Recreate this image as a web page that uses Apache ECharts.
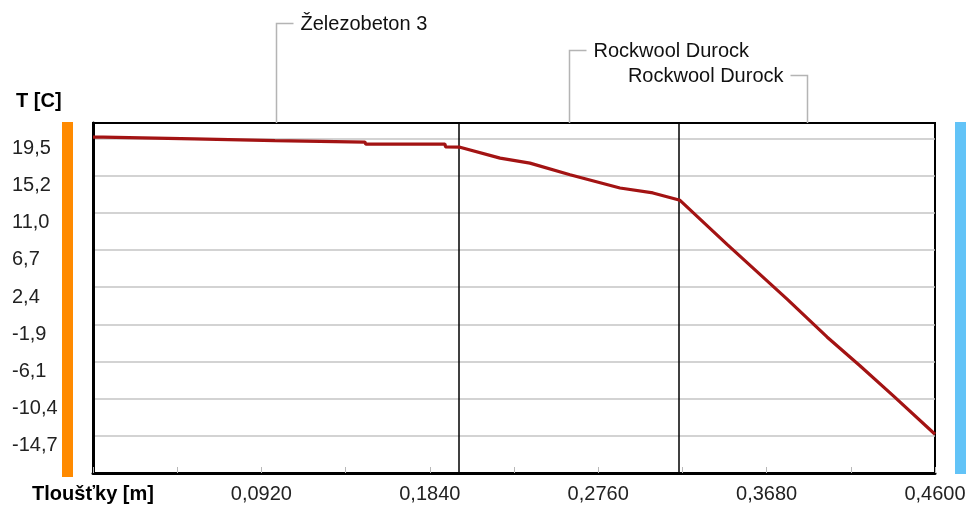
<!DOCTYPE html>
<html>
<head>
<meta charset="utf-8">
<script src="https://cdn.jsdelivr.net/npm/echarts@6/dist/echarts.min.js"></script>
<style>
html,body{margin:0;padding:0;background:#fff;}
#chart{width:972px;height:508px;}
</style>
</head>
<body>
<div id="chart"></div>
<script>
// ---- data ----
var thickness = [0, 0.0055, 0.006, 0.0552, 0.0555, 0.0994, 0.0997, 0.1486, 0.149, 0.1923, 0.1926, 0.2005,
  0.2224, 0.2387, 0.2606, 0.2879, 0.3059, 0.3207,
  0.3464, 0.3792, 0.401, 0.419, 0.4371, 0.46];
var temperature = [19.64, 19.64, 19.44, 19.44, 19.25, 19.25, 19.07, 19.07, 18.84, 18.84, 18.53, 18.49,
  17.23, 16.66, 15.32, 13.80, 13.23, 12.38,
  7.31, 1.02, -3.33, -6.65, -10.08, -14.52];
var layerBounds = [0, 0.2, 0.32, 0.46];
var layerNames = ['Železobeton 3', 'Rockwool Durock', 'Rockwool Durock'];
var yTickLabels = ['-14,7', '-10,4', '-6,1', '-1,9', '2,4', '6,7', '11,0', '15,2', '19,5'];
var xTickLabels = ['Tloušťky [m]', '0,0920', '0,1840', '0,2760', '0,3680', '0,4600'];
var yStep = 4.275, yMin = -18.975, yMax = 21.27;
var xStep = 0.046, xMax = 0.46;

var seriesData = thickness.map(function (t, i) { return [t, temperature[i]]; });

var chart = echarts.init(document.getElementById('chart'));
var font = 'Arial, "Liberation Sans", sans-serif';
var option = {
  animation: false,
  backgroundColor: '#fff',
  title: {
    text: 'T [C]', left: 11, top: 86,
    textStyle: { fontFamily: font, fontSize: 20, fontWeight: 'bold', color: '#000' }
  },
  grid: { left: 93, right: 37, top: 123, bottom: 35, show: true, borderColor: '#000', borderWidth: 2, backgroundColor: 'transparent' },
  xAxis: {
    type: 'value', min: 0, max: xMax, interval: xStep,
    axisLine: { show: true, onZero: false, lineStyle: { color: '#000', width: 3 } },
    axisTick: { show: true, inside: true, length: 6, lineStyle: { color: '#b8b8b8', width: 1 } },
    splitLine: { show: false },
    axisLabel: {
      margin: 11, fontFamily: font, fontSize: 20, color: '#222',
      showMinLabel: true, showMaxLabel: true,
      formatter: function (v) {
        var k = Math.round(v / xStep);
        if (k % 2) return '';
        var s = xTickLabels[k / 2] || '';
        return k === 0 ? '{b|' + s + '}' : s;
      },
      rich: { b: { fontFamily: font, fontSize: 20, fontWeight: 'bold', color: '#000' } }
    }
  },
  yAxis: {
    type: 'value', min: yMin, max: yMax, interval: yStep,
    axisLine: { show: true, onZero: false, lineStyle: { color: '#000', width: 3 } },
    axisTick: { show: false },
    splitLine: { show: true, showMinLine: false, showMaxLine: false, lineStyle: { color: '#c4c4c4', width: 1.5 } },
    axisLabel: {
      margin: 81, align: 'left', verticalAlign: 'top', fontFamily: font, fontSize: 20, color: '#222',
      showMaxLabel: false,
      formatter: function (v) {
        var k = Math.round((v - yMin) / yStep) - 1;
        return yTickLabels[k] || '';
      }
    }
  },
  series: [{
    type: 'line', data: seriesData, showSymbol: false, symbol: 'none',
    lineStyle: { color: '#a31313', width: 3.2 },
    markLine: {
      silent: true, symbol: 'none', label: { show: false },
      lineStyle: { color: '#000', width: 1.5, type: 'solid' },
      data: layerBounds.slice(1, layerBounds.length - 1).map(function (b) { return { xAxis: b }; })
    },
    z: 5
  }]
};
chart.setOption(option);

// annotations & side bars computed from the library's scales
var gridTop = chart.convertToPixel({ gridIndex: 0 }, [0, yMax])[1];
var gridBottom = chart.convertToPixel({ gridIndex: 0 }, [0, yMin])[1];
var gridLeft = chart.convertToPixel({ gridIndex: 0 }, [0, 0])[0];
var gridRight = chart.convertToPixel({ gridIndex: 0 }, [xMax, 0])[0];
var levels = [23, 50, 75];
var dirs = [1, 1, -1];
var elements = [];
for (var i = 0; i < layerNames.length; i++) {
  var mid = (layerBounds[i] + layerBounds[i + 1]) / 2;
  var cx = Math.round(chart.convertToPixel({ gridIndex: 0 }, [mid, 0])[0]) + 0.5;
  var ly = levels[i] + 0.5;
  var d = dirs[i];
  elements.push({
    type: 'polyline',
    shape: { points: [[cx, gridTop], [cx, ly], [cx + d * 17, ly]] },
    style: { stroke: '#b4b4b4', lineWidth: 1.5, fill: null }
  });
  elements.push({
    type: 'text',
    x: cx + d * 24, y: ly + 1,
    style: { text: layerNames[i], font: '20px ' + font, fill: '#111', align: d > 0 ? 'left' : 'right', verticalAlign: 'middle' }
  });
}
elements.push({ type: 'rect', shape: { x: gridLeft - 31, y: gridTop - 1, width: 11, height: gridBottom - gridTop + 5 }, style: { fill: '#ff8a00' } });
elements.push({ type: 'rect', shape: { x: gridRight + 20, y: gridTop - 1, width: 11, height: gridBottom - gridTop + 2 }, style: { fill: '#62c3f7' } });
chart.setOption({ graphic: { elements: elements } });
</script>
</body>
</html>
